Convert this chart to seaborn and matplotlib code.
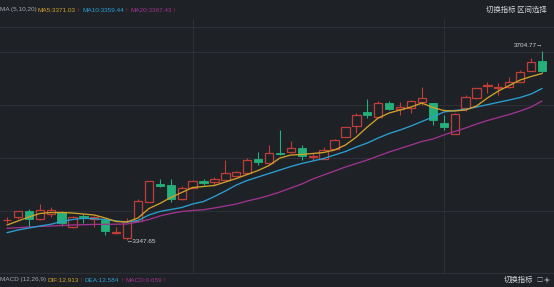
import numpy as np
import pandas as pd
import matplotlib
matplotlib.use("Agg")
import matplotlib.pyplot as plt
import seaborn as sns
from matplotlib import font_manager
from matplotlib.patches import FancyArrowPatch

# ---------------- data ----------------
opens = [3384.44, 3390.47, 3402.92, 3386.70, 3397.64, 3399.53, 3371.61, 3392.93, 3388.21, 3385.38,
         3360.86, 3350.86, 3383.49, 3420.28, 3453.86, 3452.35, 3424.43, 3446.69, 3459.52, 3458.01,
         3461.78, 3469.33, 3474.61, 3499.89, 3492.34, 3512.34, 3513.28, 3520.64, 3503.66, 3500.83,
         3519.70, 3542.53, 3563.28, 3589.69, 3579.12, 3605.53, 3594.78, 3596.10, 3608.55, 3605.53,
         3567.80, 3547.62, 3597.23, 3614.97, 3638.17, 3634.96, 3635.72, 3646.28, 3667.03, 3685.33]
highs = [3391.61, 3403.30, 3406.70, 3415.56, 3409.90, 3402.92, 3392.93, 3395.76, 3392.93, 3388.21,
         3371.61, 3388.59, 3424.43, 3459.52, 3462.16, 3462.73, 3449.52, 3460.84, 3463.29, 3467.07,
         3498.57, 3477.82, 3501.78, 3514.23, 3526.87, 3555.17, 3534.41, 3526.87, 3512.34, 3522.53,
         3538.19, 3560.82, 3586.67, 3613.65, 3609.87, 3610.44, 3608.55, 3611.76, 3636.85, 3606.10,
         3583.46, 3587.24, 3621.19, 3634.40, 3646.28, 3644.40, 3655.72, 3668.36, 3690.43, 3704.77]
lows = [3380.29, 3387.27, 3372.17, 3386.32, 3391.61, 3373.12, 3370.29, 3379.72, 3372.74, 3357.08,
        3359.91, 3347.65, 3382.55, 3419.34, 3448.20, 3419.90, 3423.11, 3445.75, 3451.97, 3451.41,
        3460.84, 3468.39, 3474.05, 3490.08, 3491.02, 3508.00, 3511.78, 3498.57, 3498.57, 3499.89,
        3518.76, 3541.96, 3548.94, 3577.24, 3578.75, 3592.90, 3583.46, 3586.67, 3602.33, 3564.60,
        3555.17, 3546.68, 3591.01, 3613.65, 3624.40, 3621.19, 3634.40, 3645.72, 3666.47, 3662.13]
closes = [3386.32, 3401.79, 3386.70, 3404.25, 3404.25, 3379.72, 3391.04, 3390.47, 3390.66, 3364.06,
          3363.31, 3383.49, 3421.79, 3458.39, 3450.09, 3425.00, 3445.18, 3459.52, 3456.12, 3462.73,
          3473.48, 3475.93, 3498.57, 3494.23, 3511.21, 3509.89, 3520.64, 3506.12, 3506.12, 3517.81,
          3536.30, 3560.26, 3582.90, 3583.46, 3605.53, 3594.22, 3599.12, 3610.44, 3616.10, 3574.03,
          3560.26, 3584.78, 3617.99, 3633.83, 3640.06, 3636.85, 3646.28, 3665.15, 3684.01, 3667.03]
ma5 = [3375.95, 3383.49, 3391.04, 3397.64, 3399.53, 3399.53, 3398.59, 3396.70, 3394.81, 3389.15,
       3382.55, 3381.61, 3389.15, 3407.07, 3416.51, 3427.83, 3437.26, 3446.69, 3448.58, 3450.46,
       3457.07, 3463.67, 3471.22, 3478.76, 3488.19, 3502.34, 3508.00, 3508.95, 3510.83, 3512.72,
       3517.43, 3526.87, 3541.96, 3560.82, 3577.80, 3587.24, 3592.89, 3598.55, 3606.10, 3597.61,
       3591.95, 3591.01, 3592.89, 3600.44, 3615.53, 3628.74, 3639.11, 3649.49, 3656.09, 3661.75]
ma10 = [3361.42, 3366.51, 3370.29, 3374.06, 3377.27, 3382.55, 3386.32, 3388.59, 3387.83, 3386.32,
        3383.49, 3381.61, 3384.44, 3394.81, 3401.41, 3405.19, 3408.96, 3415.56, 3420.28, 3429.71,
        3440.09, 3451.41, 3459.90, 3466.50, 3473.10, 3479.70, 3486.31, 3491.97, 3496.68, 3501.40,
        3508.00, 3514.61, 3523.09, 3530.64, 3540.07, 3548.56, 3555.16, 3562.71, 3571.20, 3579.69,
        3589.12, 3591.95, 3594.22, 3598.55, 3602.89, 3607.42, 3611.76, 3616.48, 3623.08, 3633.45]
ma20 = [3369.72, 3370.85, 3372.17, 3373.12, 3374.06, 3375.19, 3375.95, 3376.51, 3377.08, 3377.27,
        3377.46, 3377.83, 3381.61, 3386.32, 3392.93, 3397.64, 3401.41, 3403.30, 3404.81, 3408.02,
        3411.79, 3415.56, 3421.22, 3425.94, 3431.60, 3438.20, 3445.75, 3453.29, 3462.73, 3470.27,
        3477.82, 3485.36, 3491.97, 3498.57, 3506.12, 3513.66, 3520.26, 3526.87, 3533.47, 3538.19,
        3545.73, 3552.34, 3558.94, 3566.48, 3573.09, 3578.75, 3584.41, 3591.01, 3598.55, 3609.87]

header_parts = ["MA (5,10,20)", "MA5:3371.03", "↑", "MA10:3359.44", "↑", "MA20:3367.43", "↑"]
macd_parts = ["MACD (12,26,9)", "DIF:12.913", "↑", "DEA:12.584", "↑", "MACD:0.659", "↑"]
max_label = "3704.77→"
min_label = "←3347.65"
top_buttons = "切换指标 区间选择"
bottom_button = "切换指标"

# ---------------- style ----------------
BG = "#1e2126"
GRID = "#2d3036"
RED = "#bf3f38"
GREEN = "#25b07b"
GOLD = "#d0a12a"
CYAN = "#2aa0d2"
PURPLE = "#a0338f"
GRAY = "#a3a7ad"
WHITE = "#d4d6d9"

sns.set_theme(style="dark")
names = {f.name for f in font_manager.fontManager.ttflist}
if "Liberation Sans Narrow" in names:
    NARROW, FS = "Liberation Sans Narrow", 5.4
else:
    NARROW, FS = "Liberation Sans", 4.6
plt.rcParams["font.family"] = [NARROW, "DejaVu Sans"]
CJK = ["Noto Sans CJK SC", "DejaVu Sans"]

W, H = 554, 287
fig = plt.figure(figsize=(W / 100, H / 100), dpi=100, facecolor=BG)

top_px, bot_px = 19, 274
ax = fig.add_axes([0, 1 - bot_px / H, 1, (bot_px - top_px) / H])
ax.set_facecolor(BG)

df = pd.DataFrame({"i": np.arange(len(opens)), "open": opens, "high": highs,
                   "low": lows, "close": closes, "ma5": ma5, "ma10": ma10, "ma20": ma20})

up = df[df.close >= df.open]
dn = df[df.close < df.open]
bw = 0.76

# wicks
ax.vlines(up.i, up.close, up.high, color=RED, linewidth=0.8, zorder=2)
ax.vlines(up.i, up.low, up.open, color=RED, linewidth=0.8, zorder=2)
ax.vlines(dn.i, dn.low, dn.high, color=GREEN, linewidth=0.8, zorder=2)
# bodies
ax.bar(up.i, (up.close - up.open).clip(lower=0.6), bottom=up.open, width=bw,
       facecolor=BG, edgecolor=RED, linewidth=0.9, zorder=3)
ax.bar(dn.i, (dn.open - dn.close).clip(lower=0.6), bottom=dn.close, width=bw,
       facecolor=GREEN, edgecolor=GREEN, linewidth=0.6, zorder=3)

# moving averages
sns.lineplot(data=df, x="i", y="ma20", ax=ax, color=PURPLE, linewidth=0.95, zorder=4)
sns.lineplot(data=df, x="i", y="ma10", ax=ax, color=CYAN, linewidth=0.95, zorder=4)
sns.lineplot(data=df, x="i", y="ma5", ax=ax, color=GOLD, linewidth=0.95, zorder=4)

# scales: candle 0 at x=7px, candle 49 at x=542px
ppx = (542 - 7) / 49
ax.set_xlim(-7 / ppx, 49 + (W - 542) / ppx)
price_per_px = (3704.77 - 3347.65) / (240 - 50.7)
ax.set_ylim(3704.77 - (bot_px - 50.7) * price_per_px, 3704.77 + (50.7 - top_px) * price_per_px)

ax.set_xticks([17, 40])
ax.set_yticks([3402, 3502, 3602, 3702])
ax.grid(True, color=GRID, linewidth=0.8)
ax.tick_params(length=0, labelbottom=False, labelleft=False)
ax.set_xlabel("")
ax.set_ylabel("")
for s in ax.spines.values():
    s.set_visible(False)
ax.axhline(3704.77 + (50.7 - 27) * price_per_px, color=GRID, linewidth=0.8, zorder=0)
ax.axhline(ax.get_ylim()[0], color=GRID, linewidth=1.6, zorder=0)

# extreme labels
imax = int(np.argmax(highs))
imin = int(np.argmin(lows))
ax.annotate(max_label, (imax, highs[imax]), xytext=(0.5, 3.5), textcoords="offset points",
            ha="right", va="center", color=WHITE, fontsize=FS, zorder=6)
ax.annotate(min_label, (imin, lows[imin]), xytext=(-0.3, -1.3), textcoords="offset points",
            ha="left", va="center", color=WHITE, fontsize=FS, zorder=6)

# header / footer texts, chained left to right so they never overlap
renderer = fig.canvas.get_renderer()
hcols = [GRAY, GOLD, RED, CYAN, RED, PURPLE, RED]
gaps = [1.2, 0.5, 2.5, 0.5, 2.5, 0.5, 0]


def chain(parts, ypx):
    x = 0.0
    for t, c, g in zip(parts, hcols, gaps):
        txt = fig.text(x / W, 1 - ypx / H, t, color=c, fontsize=FS, ha="left", va="center")
        bb = txt.get_window_extent(renderer)
        x += bb.width + g


chain(header_parts, 10)
chain(macd_parts, 280)

fig.text(547 / W, 1 - 10 / H, top_buttons, color=WHITE, fontsize=5.3, ha="right",
         va="center", family=CJK)
fig.text(533 / W, 1 - 280 / H, bottom_button, color=WHITE, fontsize=5.3, ha="right",
         va="center", family=CJK)
fig.text(536 / W, 1 - 280 / H, "□", color=GRAY, fontsize=4.5, ha="left", va="center", family=CJK)
# small "expand" icon drawn as a double-headed diagonal arrow
fig.add_artist(FancyArrowPatch((544 / W, 1 - 283 / H), (550 / W, 1 - 277 / H),
                               transform=fig.transFigure, arrowstyle="<->,head_length=1.2,head_width=0.8",
                               color=GRAY, linewidth=0.6, mutation_scale=1.5))

fig.savefig("out.png", dpi=100, facecolor=BG)
